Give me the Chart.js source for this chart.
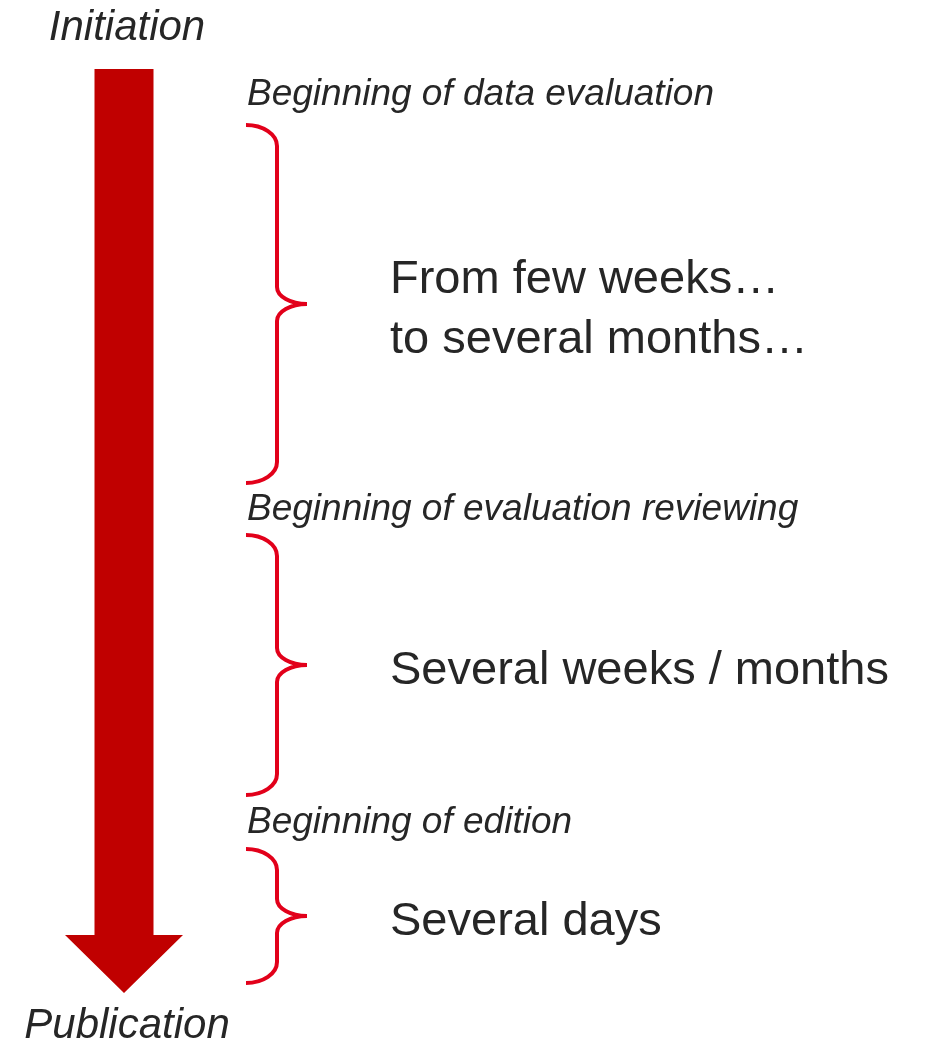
<!DOCTYPE html>
<html><head><meta charset="utf-8">
<script src="https://cdn.jsdelivr.net/npm/chart.js@4/dist/chart.umd.min.js"></script>
<style>html,body{margin:0;padding:0;background:#fff}#wrap{width:927px;height:1040px;position:relative}
.pre{position:absolute;left:-9999px;font-family:"Liberation Sans"}</style>
</head><body><div id="wrap"><canvas id="c"></canvas></div>
<span class="pre">x<i>x</i></span>
<script>
// ---- data ----
const endpoints = ['Initiation', 'Publication'];
const phaseStarts = ['Beginning of data evaluation', 'Beginning of evaluation reviewing', 'Beginning of edition'];
const phaseDurations = [['From few weeks…', 'to several months…'], ['Several weeks / months'], ['Several days']];
const phaseFrom = [125, 535, 849];   // timeline position where each brace starts
const phaseTo = [483, 795, 983];     // timeline position where each brace ends
const timelineStart = 69;
const timelineEnd = 993;

// ---- layout / style ----
const L = {
  arrowX: 124, shaftHalf: 29.5, headHalf: 59, headLen: 58,
  braceLeft: 246, braceStem: 277, braceTip: 307, braceR: 21, braceTipR: 17,
  startLabelX: 247, startLabelBase: [105, 520, 833],
  durX: 390, durLineH: 60, durShift: 19,
  endLabelX: 127, endLabelBase: [40, 1038]
};
const RED_ARROW = '#c00000', RED_BRACE = '#e2001a', TEXT = '#262626';
const FONT = '"Liberation Sans", Arial, sans-serif';

const diagram = {
  id: 'diagram',
  afterDatasetsDraw(chart) {
    const ctx = chart.ctx, xs = chart.scales.x, ys = chart.scales.y;
    const X = v => xs.getPixelForValue(v), Y = v => ys.getPixelForValue(v);
    ctx.save();
    // arrow
    const cx = X(L.arrowX);
    const top = Y(timelineStart), tip = Y(timelineEnd);
    const headBase = Y(timelineEnd - L.headLen);
    ctx.fillStyle = RED_ARROW;
    ctx.beginPath();
    ctx.moveTo(cx - L.shaftHalf, top);
    ctx.lineTo(cx + L.shaftHalf, top);
    ctx.lineTo(cx + L.shaftHalf, headBase);
    ctx.lineTo(cx + L.headHalf, headBase);
    ctx.lineTo(cx, tip);
    ctx.lineTo(cx - L.headHalf, headBase);
    ctx.lineTo(cx - L.shaftHalf, headBase);
    ctx.closePath();
    ctx.fill();
    // braces
    ctx.strokeStyle = RED_BRACE;
    ctx.lineWidth = 4;
    ctx.lineCap = 'butt';
    const xl = X(L.braceLeft), xm = X(L.braceStem), xt = X(L.braceTip);
    const k = 0.5523, w1 = xm - xl, w2 = xt - xm;
    for (let i = 0; i < phaseFrom.length; i++) {
      const a = Y(phaseFrom[i]), b = Y(phaseTo[i]), m = (a + b) / 2, r = L.braceR, s = L.braceTipR;
      ctx.beginPath();
      ctx.moveTo(xl, a);
      ctx.bezierCurveTo(xl + k * w1, a, xm, a + r - k * r, xm, a + r);
      ctx.lineTo(xm, m - s);
      ctx.bezierCurveTo(xm, m - s + k * s, xt - k * w2, m, xt, m);
      ctx.moveTo(xt, m);
      ctx.bezierCurveTo(xt - k * w2, m, xm, m + s - k * s, xm, m + s);
      ctx.lineTo(xm, b - r);
      ctx.bezierCurveTo(xm, b - r + k * r, xl + k * w1, b, xl, b);
      ctx.stroke();
    }
    // texts
    ctx.fillStyle = TEXT;
    ctx.textBaseline = 'alphabetic';
    ctx.textAlign = 'center';
    ctx.font = 'italic 42px ' + FONT;
    endpoints.forEach((t, i) => ctx.fillText(t, X(L.endLabelX), L.endLabelBase[i]));
    ctx.textAlign = 'left';
    ctx.font = 'italic 37px ' + FONT;
    phaseStarts.forEach((t, i) => ctx.fillText(t, X(L.startLabelX), L.startLabelBase[i]));
    ctx.font = '47px ' + FONT;
    phaseDurations.forEach((lines, i) => {
      const m = (Y(phaseFrom[i]) + Y(phaseTo[i])) / 2;
      lines.forEach((t, j) => {
        ctx.fillText(t, X(L.durX), m + L.durShift + (j - (lines.length - 1) / 2) * L.durLineH);
      });
    });
    ctx.restore();
  }
};

function build() {
  new Chart(document.getElementById('c'), {
    type: 'scatter',
    data: {
      datasets: [{
        label: 'Phase starts',
        data: phaseFrom.map(v => ({ x: L.braceLeft, y: v })),
        pointRadius: 0, showLine: false
      }]
    },
    options: {
      responsive: true, maintainAspectRatio: false, animation: false,
      layout: { padding: 0 },
      plugins: { legend: { display: false }, tooltip: { enabled: false } },
      scales: {
        x: { type: 'linear', min: 0, max: 927, display: false },
        y: { type: 'linear', min: 0, max: 1040, reverse: true, display: false }
      }
    },
    plugins: [diagram]
  });
}
Promise.all([
  document.fonts.load('47px "Liberation Sans"'),
  document.fonts.load('italic 42px "Liberation Sans"')
]).then(build, build);
</script></body></html>
